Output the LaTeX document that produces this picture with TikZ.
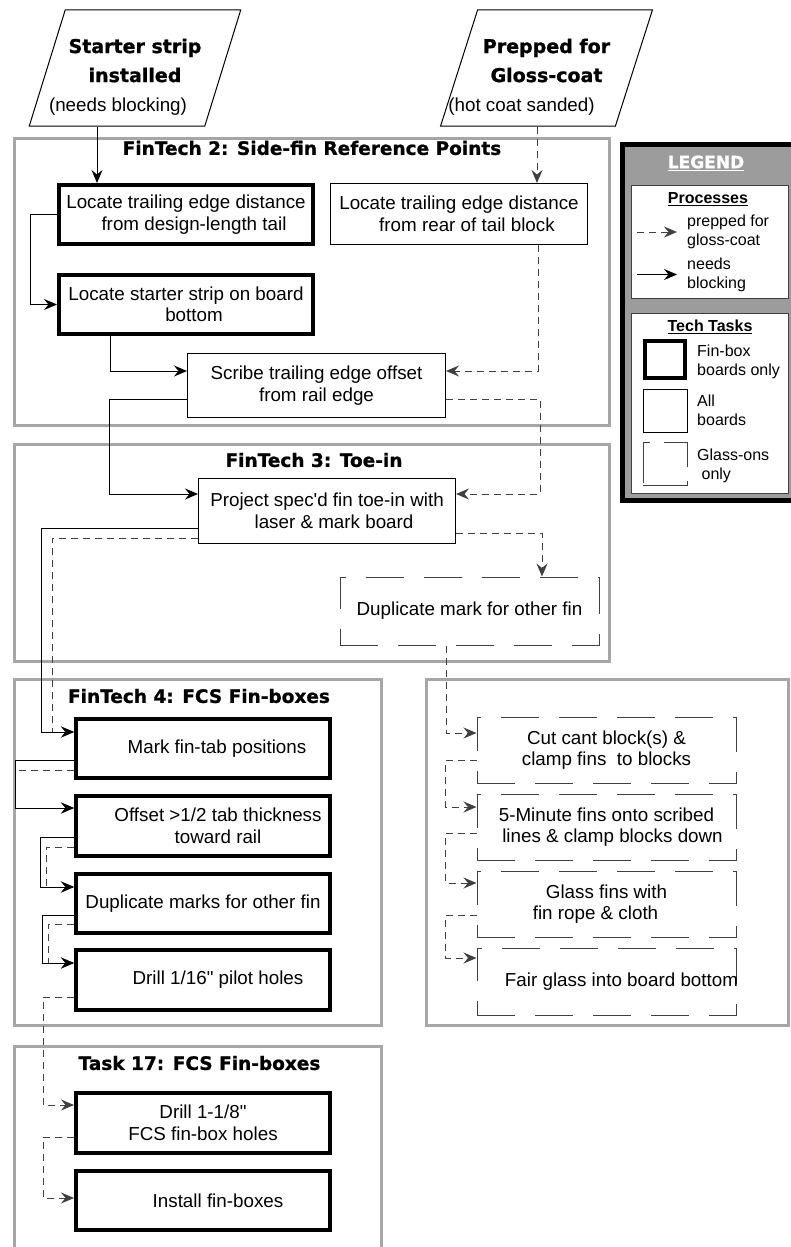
\documentclass[tikz,border=0pt]{standalone}
\usepackage{fontspec}
\setmainfont{Liberation Sans}[Ligatures=TeXOff]
\newfontfamily\heavyfont{DejaVu Sans}[BoldFeatures={FakeBold=1}]
\usetikzlibrary{shapes.geometric, arrows.meta}
\definecolor{framegray}{HTML}{A6A6A6}
\definecolor{leggray}{HTML}{9C9C9C}
\definecolor{dashgray}{HTML}{404040}
\newcommand\boldhead{\heavyfont\bfseries\fontsize{19}{29}\selectfont}
\newcommand\plainsub{\normalfont\fontsize{18.8}{29}\selectfont}

\begin{document}
\begin{tikzpicture}[x=1pt, y=-1pt,
    every node/.style={inner sep=0pt},
    txt/.style={font=\fontsize{18.8}{21.5}\selectfont, align=center},
    fbox/.style={txt, rectangle, draw=black, line width=4pt, minimum width=254pt, minimum height=59pt},
    abox/.style={txt, rectangle, draw=black, line width=1pt, minimum width=257pt, minimum height=63pt},
    gbox/.style={txt, rectangle, draw=dashgray, line width=1pt, dash pattern=on 38pt off 20pt, minimum width=259pt, minimum height=66pt},
    input/.style={trapezium, trapezium left angle=70, trapezium right angle=110, trapezium stretches=true, draw=black, line width=1pt, minimum width=212pt, minimum height=116pt, align=center, font=\fontsize{18.8}{29}\selectfont},
    frame/.style={draw=framegray, line width=3pt},
    ftitle/.style={font=\heavyfont\bfseries\fontsize{18.5}{22}\selectfont},
    arrow/.style={-{Stealth[length=13pt, width=11pt, inset=4.5pt]}, line width=1pt},
    darrow/.style={arrow, dash pattern=on 7pt off 5pt, draw=dashgray},
    legtext/.style={font=\fontsize{16}{19}\selectfont, align=left, anchor=west}
]
\fill[white] (0,0) rectangle (791,1247);
\useasboundingbox (0,0) rectangle (791,1247);

% starting states
\node[input] (start) at (135,68) {\boldhead\rule{0pt}{32pt}Starter strip\\\boldhead installed\\\plainsub\hspace*{-34pt}(needs blocking)};
\node[input] (gloss) at (546.5,68) {\boldhead\rule{0pt}{32pt}Prepped for\\\boldhead Gloss-coat\\\plainsub\hspace*{-50pt}(hot coat sanded)};

% group frames
\draw[frame] (14.5,138.5) rectangle (609.5,425.5);
\draw[frame] (14.5,444.5) rectangle (609.5,661);
\draw[frame] (14.5,679.5) rectangle (381.5,1025.5);
\draw[frame] (426.5,679.5) rectangle (788,1025.5);
\draw[frame] (14.5,1250) |- (381.5,1046.5) -- (381.5,1250);
\node[ftitle] (t2) at (312,148) {FinTech 2: Side-fin Reference Points};
\node[ftitle] (t3) at (314,460) {FinTech 3: Toe-in};
\node[ftitle] (t4) at (199,696) {FinTech 4: FCS Fin-boxes};
\node[ftitle] (t17) at (199.5,1063) {Task 17: FCS Fin-boxes};

% FinTech 2
\node[fbox] (locA) at (186,214.5) {Locate trailing edge distance\\\hspace*{16pt}from design-length tail};
\node[abox, minimum height=61pt] (locB) at (459,214) {Locate trailing edge distance\\\hspace*{16pt}from rear of tail block};
\node[fbox] (locC) at (186,304.5) {Locate starter strip on board\\\hspace*{16pt}bottom};
\node[abox, minimum width=258pt, minimum height=64pt] (scribe) at (316.5,385.5) {Scribe trailing edge offset\\from rail edge};

% FinTech 3
\node[abox, minimum height=65pt] (toein) at (327,511) {Project spec'd fin toe-in with\\\hspace*{14pt}laser \& mark board};
\node[gbox, minimum height=68pt] (dupfin) at (469.5,611) {Duplicate mark for other fin};

% FinTech 4
\node[fbox] (mark) at (203,748.5) {\hspace*{28pt}Mark fin-tab positions};
\node[fbox, minimum height=60pt] (offset) at (203,826) {\hspace*{30pt}Offset >1/2 tab thickness\\\hspace*{30pt}toward rail};
\node[fbox] (dupmarks) at (203,903.5) {Duplicate marks for other fin};
\node[fbox, minimum height=60pt] (pilot) at (203,980) {\hspace*{30pt}Drill 1/16" pilot holes};

% glass-on fins
\node[gbox] (cant) at (606.5,750) {Cut cant block(s) \&\\clamp fins\ \ to blocks};
\node[gbox] (five) at (606.5,827) {5-Minute fins onto scribed\\\hspace*{12pt}lines \& clamp blocks down};
\node[gbox] (glass) at (606.5,904) {Glass fins with\\\hspace*{-22pt}fin rope \& cloth};
\node[gbox, minimum height=67pt] (fair) at (606.5,981.5) {\makebox[259pt]{\hspace*{30pt}Fair glass into board bottom}};

% Task 17
\node[fbox, minimum height=60pt] (holes) at (203,1123) {Drill 1-1/8"\\FCS fin-box holes};
\node[fbox] (install) at (203,1200.5) {\hspace*{30pt}Install fin-boxes};

% connectors
\draw[arrow] ([xshift=40pt]locA.north west |- start.south) -- ([xshift=40pt]locA.north west);
\draw[darrow] ([xshift=78pt]locB.north |- gloss.south) -- ([xshift=78pt]locB.north);
\draw[arrow] (locA.west) -- ++(-27,0) |- (locC.west);
\draw[arrow] ([xshift=-76pt]locC.south) |- ([yshift=14.5pt]scribe.west);
\draw[darrow] ([xshift=79pt]locB.south) |- ([yshift=14.5pt]scribe.east);
\draw[arrow] ([yshift=-13.5pt]scribe.west) -- ++(-78,0) |- ([yshift=17pt]toein.west);
\draw[darrow] ([yshift=-13.5pt]scribe.east) -- ++(94,0) |- ([yshift=17pt]toein.east);
\draw[darrow] ([yshift=-27pt]toein.west) -- ++(-146,0) |- ([yshift=16.5pt]mark.west);
\draw[arrow] ([yshift=-17pt]toein.west) -- ++(-156.5,0) |- ([yshift=16.5pt]mark.west);
\draw[darrow] ([yshift=-22pt]toein.east) -| ([xshift=72.5pt]dupfin.north);
\draw[darrow] ([xshift=-23.5pt]dupfin.south) |- ([yshift=17pt]cant.west);
\draw[darrow] ([yshift=-10pt]cant.west) -- ++(-31,0) |- ([yshift=20pt]five.west);
\draw[darrow] ([yshift=-6pt]five.west) -- ++(-31,0) |- ([yshift=21pt]glass.west);
\draw[darrow] ([yshift=-11pt]glass.west) -- ++(-31,0) |- ([yshift=23.5pt]fair.west);
\draw[darrow] ([yshift=-21.5pt]mark.west) -- ++(-59,0) |- ([yshift=18pt]offset.west);
\draw[arrow] ([yshift=-11.5pt]mark.west) -- ++(-59,0) |- ([yshift=18pt]offset.west);
\draw[darrow] ([yshift=-21pt]offset.west) -- ++(-28,0) |- ([yshift=16.5pt]dupmarks.west);
\draw[arrow] ([yshift=-11pt]offset.west) -- ++(-34,0) |- ([yshift=16.5pt]dupmarks.west);
\draw[darrow] ([yshift=-20.5pt]dupmarks.west) -- ++(-26,0) |- ([yshift=17pt]pilot.west);
\draw[arrow] ([yshift=-11.5pt]dupmarks.west) -- ++(-32,0) |- ([yshift=17pt]pilot.west);
\draw[darrow] ([yshift=-17pt]pilot.west) -- ++(-31,0) |- ([yshift=18pt]holes.west);
\draw[darrow] ([yshift=-14pt]holes.west) -- ++(-31,0) |- ([yshift=2.5pt]install.west);

% legend
\draw[line width=5pt, fill=leggray] (622.5,144.5) rectangle (800,500.5);
\node[font=\heavyfont\bfseries\fontsize{17}{20}\selectfont, text=white] (legtitle) at (706,163) {\underline{LEGEND}};
\draw[fill=white, draw=dashgray, line width=1pt] (631,185) rectangle (788,298);
\node[font=\bfseries\fontsize{16}{19}\selectfont] (proc) at (708,199) {\underline{Processes}};
\node[legtext] (lgdash) at (687,232) {prepped for\\gloss-coat};
\draw[darrow] ([xshift=-50pt]lgdash.west) -- ([xshift=-10pt]lgdash.west);
\node[legtext] (lgsolid) at (687,274.5) {needs\\blocking};
\draw[arrow] ([xshift=-50pt]lgsolid.west) -- ([xshift=-10pt]lgsolid.west);
\draw[fill=white, draw=dashgray, line width=1pt] (631,313) rectangle (788,493);
\node[font=\bfseries\fontsize{16}{19}\selectfont] (tech) at (710,327) {\underline{Tech Tasks}};
\node[fbox, minimum width=40pt, minimum height=37pt] (lgfin) at (665,359.5) {};
\node[legtext] at (697,362) {Fin-box\\boards only};
\node[abox, minimum width=44pt, minimum height=43pt] (lgall) at (665,410.5) {};
\node[legtext] at (697,410) {All\\boards};
\node[gbox, minimum width=44pt, minimum height=43pt, dash pattern=on 48pt off 14pt] (lgglass) at (665,463.5) {};
\node[legtext] at (697,466) {Glass-ons\\\ only};
\end{tikzpicture}
\end{document}
